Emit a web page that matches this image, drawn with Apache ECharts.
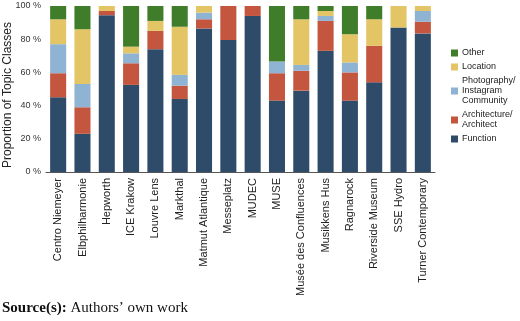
<!DOCTYPE html>
<html>
<head>
<meta charset="utf-8">
<script src="https://cdn.jsdelivr.net/npm/echarts@6/dist/echarts.min.js"></script>
<style>
html,body{margin:0;padding:0;background:#fff;}
#chart{width:520px;height:321px;}
</style>
</head>
<body>
<div id="chart"></div>
<script>
var categories = ["Centro Niemeyer","Elbphilharmonie","Hepworth","ICE Krakow","Louvre Lens","Markthal","Matmut Atlantique","Messeplatz","MUDEC","MUSE","Musée des Confluences","Musikkens Hus","Ragnarock","Riverside Museum","SSE Hydro","Turner Contemporary"];
var functionVals = [45, 23, 94.5, 52.5, 74, 44, 86.5, 79.5, 94, 43, 49, 73, 43, 54, 87, 83.5];
var architectureVals = [14.5, 16, 2.5, 13, 11, 8, 5.5, 20.5, 6, 16.5, 12, 18, 17, 22, 0, 7];
var photographyVals = [17.5, 14, 0, 6, 0, 6.5, 4, 0, 0, 7, 3.5, 3, 6, 0, 0, 6.5];
var locationVals = [15, 33, 3, 4, 6, 29, 4, 0, 0, 0, 27.5, 3, 17, 16, 13, 3];
var otherVals = [8, 14, 0, 24.5, 9, 12.5, 0, 0, 0, 33.5, 8, 3, 17, 8, 0, 0];
var yTicks = [0, 20, 40, 60, 80, 100];

var seriesNames = ["Function", "Architecture/\nArchitect", "Photography/\nInstagram\nCommunity", "Location", "Other"];
var seriesData = [functionVals, architectureVals, photographyVals, locationVals, otherVals];
var colors = ["#2f4b6a", "#c4553e", "#8fb3d3", "#e3c566", "#3f7d2a"];

var chart = echarts.init(document.getElementById('chart'), null, {renderer: 'canvas'});
var series = seriesNames.map(function(n, i){
  return {
    name: n,
    type: 'bar',
    stack: 'total',
    barWidth: '66%',
    itemStyle: {color: colors[i]},
    data: seriesData[i]
  };
});
chart.setOption({
  animation: false,
  color: colors,
  grid: {left: 46, right: 85, top: 6, bottom: 149, containLabel: false},
  legend: {
    data: seriesNames.slice().reverse(),
    orient: 'vertical',
    left: 446,
    top: 43,
    icon: 'rect',
    itemWidth: 7,
    itemHeight: 7,
    itemGap: 4,
    textStyle: {fontFamily: 'Liberation Sans, Arial, sans-serif', fontSize: 9, lineHeight: 10, color: '#222', padding: [0,0,0,-1]}
  },
  xAxis: {
    type: 'category',
    data: categories,
    axisTick: {show: false},
    axisLine: {lineStyle: {color: '#555', width: 1}},
    axisLabel: {interval: 0, rotate: 90, fontSize: 11, margin: 6, color: '#222', fontFamily: 'Liberation Sans, Arial, sans-serif'}
  },
  yAxis: {
    type: 'value',
    min: yTicks[0],
    max: yTicks[yTicks.length-1],
    interval: 20,
    axisLine: {show: false},
    axisTick: {show: false},
    splitLine: {show: false},
    axisLabel: {formatter: '{value} %', fontSize: 9, margin: 5, color: '#333', fontFamily: 'Liberation Sans, Arial, sans-serif'}
  },
  graphic: [
    {
      type: 'text',
      x: 8, y: 95,
      rotation: Math.PI/2,
      style: {text: 'Proportion of Topic Classes', fontSize: 12, fontFamily: 'Liberation Sans, Arial, sans-serif', fill: '#222', align: 'center', verticalAlign: 'middle'}
    },
    {
      type: 'text',
      left: 2, top: 301,
      style: {
        text: '{b|Source(s):} Authors\u2019 own work',
        fontSize: 15, fontFamily: 'Liberation Serif, Times New Roman, serif', fill: '#111',
        rich: {b: {fontWeight: 'bold', fontSize: 15, fontFamily: 'Liberation Serif, Times New Roman, serif', fill: '#111'}}
      }
    }
  ],
  series: series
});
</script>
</body>
</html>
